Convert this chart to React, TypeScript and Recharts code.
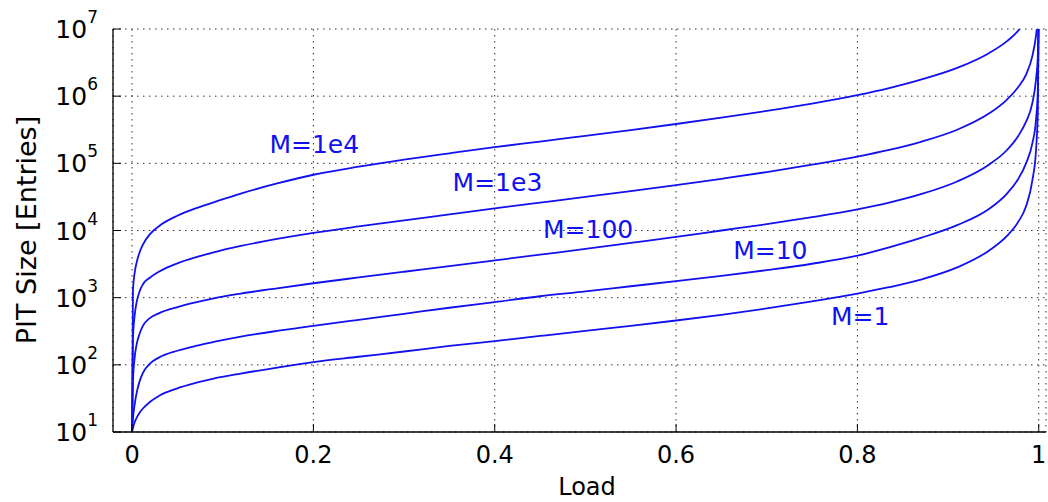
import { LineChart, Line, XAxis, YAxis, CartesianGrid, ReferenceDot } from "recharts";

// load values (x) shared by all curves
const loads = [0, 0.001, 0.003, 0.005, 0.0085, 0.012, 0.02, 0.03, 0.05, 0.07, 0.09, 0.12, 0.16, 0.2, 0.25, 0.3, 0.35, 0.4, 0.45, 0.5, 0.55, 0.6, 0.65, 0.7, 0.75, 0.8, 0.835, 0.87, 0.91, 0.945, 0.965, 0.977, 0.986, 0.993, 0.997, 0.999, 1];

// PIT size per curve
const m1 = [10, 11.5, 14.1, 16.2, 19.5, 22.4, 28.2, 34.7, 44.7, 53.7, 62.4, 74.1, 91.2, 110, 132, 158, 191, 226, 269, 320, 380, 457, 556, 692, 881, 1150, 1430, 1860, 2820, 5010, 8320, 13200, 22900, 56200, 158000, 631000, 2e7];
const m10 = [10, 15.8, 26.3, 38, 57.5, 75.9, 105, 129, 162, 191, 219, 263, 320, 380, 468, 575, 708, 861, 1050, 1240, 1480, 1760, 2110, 2570, 3200, 4220, 5620, 7760, 12000, 20900, 35500, 57500, 100000, 200000, 447000, 1260000, 2e7];
const m100 = [10, 56.2, 132, 200, 295, 380, 501, 589, 724, 851, 977, 1150, 1380, 1640, 2000, 2430, 2950, 3590, 4370, 5310, 6530, 8040, 10000, 12400, 15800, 20700, 26000, 34700, 53700, 95500, 158000, 251000, 417000, 794000, 1780000, 3980000, 2e7];
const m1e3 = [10, 251, 562, 851, 1260, 1580, 2000, 2450, 3240, 3980, 4730, 5890, 7500, 9230, 11500, 14100, 17400, 21400, 26000, 31600, 38500, 47300, 58900, 74100, 95500, 126000, 158000, 209000, 316000, 550000, 891000, 1350000, 2090000, 3980000, 7940000, 14100000, 2e7];
const m1e4 = [10, 1260, 2400, 3310, 4790, 6170, 8910, 11700, 16600, 21400, 26300, 35500, 50100, 67600, 89100, 113500, 141000, 174000, 211000, 257000, 313000, 385000, 479000, 603000, 776000, 1035000, 1318000, 1758000, 2630000, 4365000, 6607000, 9330000, 14100000, 2e7, 2e7, 2e7, 2e7];

const seriesKeys = ["m1", "m10", "m100", "m1e3", "m1e4"];

// curve annotations: text, load, size
const labelTexts = ["M=1", "M=10", "M=100", "M=1e3", "M=1e4"];
const labelLoads = [0.803, 0.704, 0.503, 0.403, 0.201];
const labelSizes = [531, 5190, 10400, 52500, 195000];

const xTicks = [0, 0.2, 0.4, 0.6, 0.8, 1];
const xTickLabels = ["0", "0.2", "0.4", "0.6", "0.8", "1"];
const yTicks = [10, 100, 1e3, 1e4, 1e5, 1e6, 1e7];
const yMinorTicks = yTicks.slice(0, -1).flatMap((d) => [2, 3, 4, 5, 6, 7, 8, 9].map((k) => k * d));

const data = loads.map((load, i) => ({
  load,
  m1: m1[i],
  m10: m10[i],
  m100: m100[i],
  m1e3: m1e3[i],
  m1e4: m1e4[i],
}));

const FONT = "'DejaVu Sans', sans-serif";
const BLUE = "#1010f0";
const X_DOMAIN: [number, number] = [-0.021, 1.008];
const Y_DOMAIN: [number, number] = [10, 1e7];

const XTick = ({ x, y, payload }: any) => {
  const idx = xTicks.indexOf(payload.value);
  return (
    <text x={x} y={y} dy={18} textAnchor="middle" fontSize={24} fontFamily={FONT} fill="#000">
      {xTickLabels[idx] ?? payload.value}
    </text>
  );
};

const YTick = ({ x, y, payload }: any) => {
  const exp = Math.round(Math.log10(payload.value));
  return (
    <text x={x} y={y} dy={9} textAnchor="end" fontSize={25} fontFamily={FONT} fill="#000">
      10
      <tspan dy={-15} fontSize={17}>
        {exp}
      </tspan>
    </text>
  );
};

const YLabel = () => (
  <text
    x={26}
    y={230}
    transform="rotate(-90 26 230)"
    textAnchor="middle"
    dominantBaseline="central"
    fontSize={27}
    fontFamily={FONT}
    fill="#000"
  >
    PIT Size [Entries]
  </text>
);

const XLabel = () => (
  <text x={587} y={495} textAnchor="middle" fontSize={24} fontFamily={FONT} fill="#000">
    Load
  </text>
);

export default function App() {
  return (
    <div style={{ position: "absolute", top: 0, left: 0, width: 1048, height: 502, background: "#fff" }}>
      <LineChart width={1048} height={502} data={data} margin={{ top: 29, right: 2, bottom: 0, left: 0 }}>
        <CartesianGrid stroke="#333" strokeDasharray="1.5 4.5" strokeWidth={1} />
        <XAxis
          dataKey="load"
          type="number"
          domain={X_DOMAIN}
          allowDataOverflow
          ticks={xTicks}
          height={70}
          tick={<XTick />}
          tickSize={-8}
          tickMargin={21}
          stroke="#000"
          axisLine={{ stroke: "#000", strokeWidth: 1.3 }}
          tickLine={{ stroke: "#000" }}
          label={<XLabel />}
        />
        <XAxis
          xAxisId="top"
          orientation="top"
          dataKey="load"
          type="number"
          domain={X_DOMAIN}
          allowDataOverflow
          ticks={xTicks}
          height={0}
          tick={false}
          tickSize={-8}
          axisLine={{ stroke: "#000", strokeWidth: 1.3 }}
          tickLine={{ stroke: "#000" }}
        />
        <YAxis
          scale="log"
          type="number"
          domain={Y_DOMAIN}
          allowDataOverflow
          ticks={yTicks}
          width={113}
          tick={<YTick />}
          tickSize={-8}
          tickMargin={23}
          axisLine={{ stroke: "#000", strokeWidth: 1.3 }}
          tickLine={{ stroke: "#000" }}
          label={<YLabel />}
        />
        <YAxis
          yAxisId="minorLeft"
          scale="log"
          type="number"
          domain={Y_DOMAIN}
          allowDataOverflow
          ticks={yMinorTicks}
          width={0}
          tick={false}
          tickSize={-4}
          axisLine={false}
          tickLine={{ stroke: "#000" }}
        />
        <YAxis
          yAxisId="right"
          orientation="right"
          scale="log"
          type="number"
          domain={Y_DOMAIN}
          allowDataOverflow
          ticks={yTicks}
          width={0}
          tick={false}
          tickSize={-8}
          axisLine={{ stroke: "#000", strokeWidth: 1.3 }}
          tickLine={{ stroke: "#000" }}
        />
        <YAxis
          yAxisId="minorRight"
          orientation="right"
          scale="log"
          type="number"
          domain={Y_DOMAIN}
          allowDataOverflow
          ticks={yMinorTicks}
          width={0}
          tick={false}
          tickSize={-4}
          axisLine={false}
          tickLine={{ stroke: "#000" }}
        />
        {seriesKeys.map((key) => (
          <Line
            key={key}
            dataKey={key}
            type="monotone"
            stroke={BLUE}
            strokeWidth={1.8}
            dot={false}
            activeDot={false}
            isAnimationActive={false}
          />
        ))}
        {labelTexts.map((text, i) => (
          <ReferenceDot
            key={text}
            x={labelLoads[i]}
            y={labelSizes[i]}
            r={0}
            fill="none"
            stroke="none"
            label={{ value: text, position: "center", fill: BLUE, fontSize: 25, fontFamily: FONT }}
          />
        ))}
      </LineChart>
    </div>
  );
}
